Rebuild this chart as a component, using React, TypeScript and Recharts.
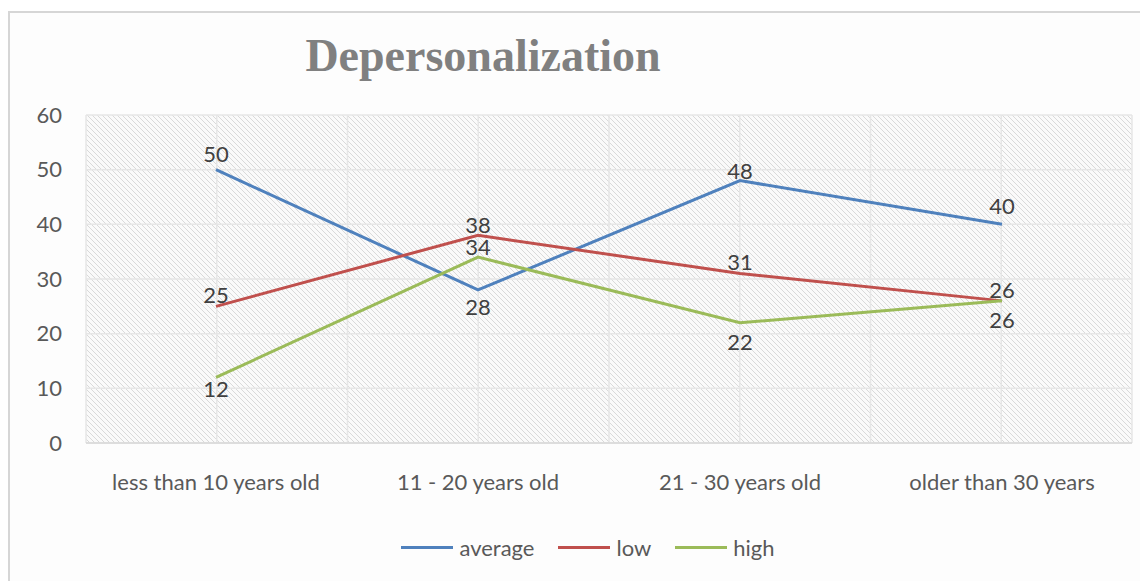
import React from 'react';
import { LineChart, Line, XAxis, YAxis, CartesianGrid, Legend, LabelList } from 'recharts';

// Age groups on the category axis
const categories = ['less than 10 years old', '11 - 20 years old', '21 - 30 years old', 'older than 30 years'];

// Depersonalization levels per age group
const average = [50, 28, 48, 40];
const low = [25, 38, 31, 26];
const high = [12, 34, 22, 26];

const yTicks = [0, 10, 20, 30, 40, 50, 60];

const data = categories.map((name, i) => ({ name, average: average[i], low: low[i], high: high[i] }));

// Vertical offset (px) of each value label from its point; negative sits above
const labelOffset: Record<string, number[]> = {
  average: [-16, 17, -10, -19],
  low: [-12, -11, -12, -11],
  high: [11, -11, 19, 19],
};

const series = [
  { key: 'average', color: '#4f81bd' },
  { key: 'low', color: '#c0504d' },
  { key: 'high', color: '#9bbb59' },
];

const FONT = 'Lato, "Liberation Sans", sans-serif';
const FS = 22;

const makeLabel = (key: string) => (props: any) => {
  const { x, y, value, index } = props;
  return (
    <text
      x={x}
      y={y + labelOffset[key][index]}
      textAnchor="middle"
      dominantBaseline="central"
      fill="#404040"
      fontSize={FS}
      fontFamily={FONT}
    >
      {value}
    </text>
  );
};

const LegendContent = () => (
  <div
    style={{
      display: 'flex',
      justifyContent: 'center',
      alignItems: 'center',
      height: 26,
      paddingLeft: 34,
      fontFamily: FONT,
      fontSize: FS,
      color: '#595959',
    }}
  >
    {series.map((s, i) => (
      <div key={s.key} style={{ display: 'flex', alignItems: 'center', marginRight: i < series.length - 1 ? 24 : 0 }}>
        <div style={{ width: 52, height: 3, background: s.color, marginRight: 6 }} />
        <span>{s.key}</span>
      </div>
    ))}
  </div>
);

export default function App() {
  return (
    <div>
      <svg width={0} height={0} style={{ position: 'absolute' }}>
        <defs>
          <pattern id="hatch" patternUnits="userSpaceOnUse" width={5} height={5}>
            <rect width={5} height={5} fill="#fafafa" />
            <path d="M-1,-1 L6,6 M-3.5,1.5 L1.5,6.5 M1.5,-3.5 L6.5,1.5" stroke="#d6d6d6" strokeWidth={0.9} />
          </pattern>
        </defs>
      </svg>
      <div
        style={{
          position: 'relative',
          width: 1140,
          height: 569,
          marginTop: 3,
          borderLeft: '2px solid #d6d6d6',
          borderTop: '2px solid #d6d6d6',
          background: '#fdfdfd',
        }}
      >
        <div
          style={{
            position: 'absolute',
            left: 0,
            width: 946,
            top: 20,
            lineHeight: '46px',
            textAlign: 'center',
            fontFamily: '"Liberation Serif", serif',
            fontWeight: 'bold',
            fontSize: 46,
            color: '#808080',
            zIndex: 2,
          }}
        >
          Depersonalization
        </div>
        <LineChart width={1138} height={567} data={data} margin={{ top: 102, right: 16, bottom: 71, left: 0 }}>
          <CartesianGrid
            fill="url(#hatch)"
            stroke="#e6e6e6"
            strokeWidth={1.5}
            verticalCoordinatesGenerator={({ offset }: any) =>
              Array.from({ length: 9 }, (_, k) => offset.left + (offset.width * k) / 8)
            }
          />
          <XAxis
            dataKey="name"
            height={40}
            padding={{ left: 130, right: 130 }}
            tickLine={false}
            tickSize={0}
            tickMargin={31}
            axisLine={{ stroke: '#d9d9d9', strokeWidth: 1.5 }}
            tick={{ fill: '#595959', fontSize: FS, fontFamily: FONT }}
            interval={0}
          />
          <YAxis
            width={76}
            domain={[0, 60]}
            ticks={yTicks}
            tickLine={false}
            tickSize={0}
            tickMargin={24}
            axisLine={false}
            tick={{ fill: '#595959', fontSize: FS, fontFamily: FONT }}
          />
          <Legend verticalAlign="bottom" content={<LegendContent />} wrapperStyle={{ top: 521, height: 26 }} />
          {series.map((s) => (
            <Line
              key={s.key}
              type="linear"
              dataKey={s.key}
              stroke={s.color}
              strokeWidth={3}
              dot={false}
              activeDot={false}
              isAnimationActive={false}
            >
              <LabelList dataKey={s.key} content={makeLabel(s.key)} />
            </Line>
          ))}
        </LineChart>
      </div>
    </div>
  );
}
